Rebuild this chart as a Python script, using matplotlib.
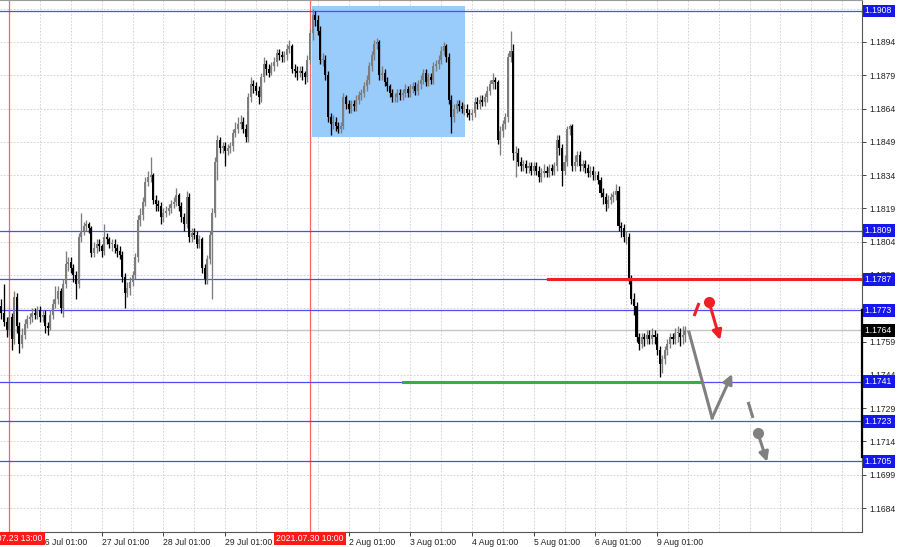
import numpy as np
import matplotlib.pyplot as plt
from matplotlib.transforms import blended_transform_factory

plt.rcParams['font.family'] = ['Liberation Sans', 'DejaVu Sans']
plt.rcParams['font.size'] = 6.2

# EURUSD H1 candles, index 0 = 23 Jul 10:00 ... index 266 = 9 Aug 12:00
open_first = 1.1775
close = [
    1.1772, 1.1768, 1.1764, 1.1770, 1.1760, 1.1779, 1.1766, 1.1758, 1.1762, 1.1767,
    1.1769, 1.1770, 1.1772, 1.1771, 1.1773, 1.1770, 1.1771, 1.1766, 1.1765, 1.1771,
    1.1776, 1.1778, 1.1782, 1.1774, 1.1785, 1.1794, 1.1795, 1.1792, 1.1789, 1.1785,
    1.1806, 1.1809, 1.1811, 1.1812, 1.1810, 1.1799, 1.1801, 1.1803, 1.1802, 1.1800,
    1.1806, 1.1805, 1.1803, 1.1803, 1.1801, 1.1800, 1.1798, 1.1788, 1.1781, 1.1783,
    1.1786, 1.1789, 1.1797, 1.1814, 1.1816, 1.1822, 1.1831, 1.1833, 1.1834, 1.1823,
    1.1821, 1.1820, 1.1815, 1.1817, 1.1818, 1.1819, 1.1821, 1.1822, 1.1825, 1.1820,
    1.1815, 1.1812, 1.1824, 1.1806, 1.1808, 1.1807, 1.1803, 1.1805, 1.1792, 1.1787,
    1.1796, 1.1807, 1.1817, 1.1840, 1.1850, 1.1846, 1.1847, 1.1845, 1.1846, 1.1847,
    1.1853, 1.1855, 1.1857, 1.1858, 1.1855, 1.1851, 1.1869, 1.1875, 1.1874, 1.1872,
    1.1869, 1.1878, 1.1884, 1.1882, 1.1880, 1.1883, 1.1885, 1.1889, 1.1888, 1.1887,
    1.1888, 1.1891, 1.1892, 1.1882, 1.1881, 1.1880, 1.1881, 1.1880, 1.1878, 1.1886,
    1.1898, 1.1906, 1.1904, 1.1899, 1.1886, 1.1886, 1.1879, 1.1860, 1.1857, 1.1858,
    1.1856, 1.1855, 1.1856, 1.1869, 1.1866, 1.1864, 1.1866, 1.1865, 1.1868, 1.1870,
    1.1871, 1.1874, 1.1877, 1.1883, 1.1888, 1.1893, 1.1894, 1.1879, 1.1880, 1.1876,
    1.1874, 1.1871, 1.1869, 1.1869, 1.1871, 1.1870, 1.1871, 1.1873, 1.1871, 1.1873,
    1.1874, 1.1872, 1.1875, 1.1877, 1.1880, 1.1876, 1.1878, 1.1877, 1.1883, 1.1884,
    1.1886, 1.1890, 1.1892, 1.1887, 1.1868, 1.1860, 1.1864, 1.1866, 1.1865, 1.1864,
    1.1864, 1.1862, 1.1861, 1.1862, 1.1867, 1.1866, 1.1868, 1.1867, 1.1869, 1.1872,
    1.1875, 1.1877, 1.1876, 1.1850, 1.1854, 1.1857, 1.1860, 1.1887, 1.1890, 1.1844,
    1.1844, 1.1840, 1.1838, 1.1839, 1.1837, 1.1838, 1.1836, 1.1838, 1.1836, 1.1833,
    1.1835, 1.1836, 1.1835, 1.1837, 1.1836, 1.1838, 1.1850, 1.1846, 1.1836, 1.1840,
    1.1855, 1.1856, 1.1838, 1.1840, 1.1843, 1.1838, 1.1839, 1.1837, 1.1835, 1.1836,
    1.1834, 1.1834, 1.1832, 1.1826, 1.1824, 1.1821, 1.1823, 1.1824, 1.1825, 1.1827,
    1.1811, 1.1810, 1.1806, 1.1806, 1.1787, 1.1778, 1.1775, 1.1761, 1.1758, 1.1761,
    1.1760, 1.1762, 1.1760, 1.1762, 1.1761, 1.1755, 1.1749, 1.1751, 1.1755, 1.1758,
    1.1761, 1.1760, 1.1763, 1.1763, 1.1761, 1.1762, 1.1764,
]
high = [
    1.1778, 1.1785, 1.1770, 1.1773, 1.1772, 1.1782, 1.1781, 1.1768, 1.1765, 1.1769,
    1.1771, 1.1772, 1.1774, 1.1774, 1.1775, 1.1775, 1.1773, 1.1773, 1.1768, 1.1773,
    1.1778, 1.1784, 1.1784, 1.1783, 1.1787, 1.1800, 1.1797, 1.1797, 1.1794, 1.1791,
    1.1808, 1.1817, 1.1813, 1.1814, 1.1813, 1.1811, 1.1804, 1.1805, 1.1805, 1.1803,
    1.1812, 1.1808, 1.1806, 1.1805, 1.1805, 1.1803, 1.1802, 1.1800, 1.1790, 1.1786,
    1.1788, 1.1791, 1.1799, 1.1816, 1.1819, 1.1824, 1.1833, 1.1836, 1.1842, 1.1835,
    1.1825, 1.1823, 1.1822, 1.1819, 1.1820, 1.1821, 1.1823, 1.1824, 1.1828, 1.1826,
    1.1822, 1.1817, 1.1827, 1.1826, 1.1810, 1.1810, 1.1809, 1.1807, 1.1806, 1.1794,
    1.1798, 1.1809, 1.1819, 1.1842, 1.1852, 1.1851, 1.1849, 1.1849, 1.1848, 1.1849,
    1.1855, 1.1858, 1.1860, 1.1861, 1.1860, 1.1857, 1.1871, 1.1878, 1.1877, 1.1876,
    1.1874, 1.1880, 1.1887, 1.1886, 1.1884, 1.1885, 1.1887, 1.1891, 1.1891, 1.1890,
    1.1890, 1.1893, 1.1895, 1.1893, 1.1884, 1.1883, 1.1883, 1.1883, 1.1881, 1.1888,
    1.1900, 1.1909, 1.1908, 1.1906, 1.1901, 1.1889, 1.1888, 1.1881, 1.1862, 1.1861,
    1.1860, 1.1858, 1.1858, 1.1871, 1.1870, 1.1868, 1.1868, 1.1868, 1.1870, 1.1872,
    1.1873, 1.1876, 1.1879, 1.1885, 1.1890, 1.1895, 1.1896, 1.1895, 1.1883, 1.1882,
    1.1878, 1.1875, 1.1873, 1.1871, 1.1873, 1.1873, 1.1873, 1.1875, 1.1874, 1.1875,
    1.1876, 1.1876, 1.1877, 1.1879, 1.1882, 1.1882, 1.1880, 1.1880, 1.1885, 1.1886,
    1.1888, 1.1892, 1.1894, 1.1893, 1.1889, 1.1870, 1.1866, 1.1868, 1.1868, 1.1867,
    1.1866, 1.1866, 1.1864, 1.1864, 1.1869, 1.1869, 1.1870, 1.1870, 1.1871, 1.1874,
    1.1877, 1.1880, 1.1878, 1.1877, 1.1856, 1.1859, 1.1862, 1.1889, 1.1899, 1.1893,
    1.1847, 1.1846, 1.1842, 1.1841, 1.1841, 1.1840, 1.1840, 1.1840, 1.1840, 1.1838,
    1.1837, 1.1839, 1.1838, 1.1839, 1.1839, 1.1840, 1.1852, 1.1852, 1.1848, 1.1843,
    1.1856, 1.1857, 1.1857, 1.1843, 1.1845, 1.1845, 1.1841, 1.1841, 1.1839, 1.1838,
    1.1838, 1.1836, 1.1836, 1.1833, 1.1828, 1.1826, 1.1825, 1.1826, 1.1827, 1.1830,
    1.1829, 1.1813, 1.1812, 1.1809, 1.1808, 1.1789, 1.1781, 1.1777, 1.1763, 1.1763,
    1.1763, 1.1764, 1.1764, 1.1765, 1.1764, 1.1763, 1.1757, 1.1753, 1.1757, 1.1760,
    1.1763, 1.1763, 1.1765, 1.1766, 1.1765, 1.1766, 1.1766,
]
low = [
    1.1769, 1.1766, 1.1761, 1.1762, 1.1755, 1.1758, 1.1763, 1.1754, 1.1756, 1.1760,
    1.1765, 1.1767, 1.1768, 1.1769, 1.1769, 1.1768, 1.1768, 1.1763, 1.1762, 1.1764,
    1.1769, 1.1774, 1.1776, 1.1772, 1.1770, 1.1783, 1.1791, 1.1790, 1.1786, 1.1778,
    1.1783, 1.1804, 1.1807, 1.1809, 1.1808, 1.1797, 1.1797, 1.1799, 1.1800, 1.1797,
    1.1798, 1.1803, 1.1801, 1.1800, 1.1799, 1.1797, 1.1796, 1.1786, 1.1774, 1.1779,
    1.1780, 1.1784, 1.1787, 1.1795, 1.1811, 1.1814, 1.1820, 1.1829, 1.1831, 1.1821,
    1.1818, 1.1818, 1.1812, 1.1813, 1.1815, 1.1816, 1.1817, 1.1819, 1.1820, 1.1818,
    1.1813, 1.1809, 1.1810, 1.1804, 1.1804, 1.1805, 1.1801, 1.1801, 1.1790, 1.1785,
    1.1785, 1.1794, 1.1778, 1.1815, 1.1832, 1.1844, 1.1844, 1.1838, 1.1843, 1.1844,
    1.1845, 1.1851, 1.1853, 1.1855, 1.1853, 1.1849, 1.1849, 1.1867, 1.1871, 1.1870,
    1.1866, 1.1867, 1.1876, 1.1879, 1.1878, 1.1879, 1.1881, 1.1883, 1.1886, 1.1885,
    1.1885, 1.1886, 1.1889, 1.1880, 1.1878, 1.1877, 1.1878, 1.1877, 1.1875, 1.1876,
    1.1884, 1.1895, 1.1901, 1.1897, 1.1884, 1.1883, 1.1877, 1.1858, 1.1852, 1.1855,
    1.1854, 1.1853, 1.1853, 1.1855, 1.1864, 1.1862, 1.1862, 1.1863, 1.1863, 1.1866,
    1.1868, 1.1869, 1.1872, 1.1875, 1.1881, 1.1886, 1.1891, 1.1877, 1.1877, 1.1874,
    1.1872, 1.1869, 1.1867, 1.1867, 1.1867, 1.1868, 1.1868, 1.1869, 1.1869, 1.1869,
    1.1871, 1.1870, 1.1870, 1.1873, 1.1875, 1.1874, 1.1874, 1.1875, 1.1875, 1.1881,
    1.1882, 1.1884, 1.1888, 1.1885, 1.1866, 1.1853, 1.1858, 1.1862, 1.1863, 1.1862,
    1.1861, 1.1860, 1.1859, 1.1859, 1.1860, 1.1864, 1.1864, 1.1865, 1.1865, 1.1867,
    1.1870, 1.1873, 1.1873, 1.1848, 1.1843, 1.1851, 1.1855, 1.1858, 1.1885, 1.1841,
    1.1833, 1.1838, 1.1836, 1.1836, 1.1835, 1.1835, 1.1834, 1.1834, 1.1834, 1.1831,
    1.1831, 1.1833, 1.1833, 1.1833, 1.1834, 1.1834, 1.1836, 1.1843, 1.1829, 1.1834,
    1.1838, 1.1852, 1.1836, 1.1836, 1.1838, 1.1836, 1.1836, 1.1835, 1.1833, 1.1833,
    1.1832, 1.1832, 1.1830, 1.1824, 1.1821, 1.1818, 1.1819, 1.1821, 1.1822, 1.1823,
    1.1809, 1.1806, 1.1804, 1.1803, 1.1785, 1.1776, 1.1771, 1.1759, 1.1755, 1.1756,
    1.1757, 1.1758, 1.1758, 1.1758, 1.1758, 1.1753, 1.1743, 1.1745, 1.1749, 1.1753,
    1.1756, 1.1758, 1.1758, 1.1759, 1.1757, 1.1758, 1.1759,
]

day_idx = [15, 39, 63, 87, 135, 159, 183, 207, 231, 255]
day_lbl = ['26 Jul 01:00', '27 Jul 01:00', '28 Jul 01:00', '29 Jul 01:00', '2 Aug 01:00',
           '3 Aug 01:00', '4 Aug 01:00', '5 Aug 01:00', '6 Aug 01:00', '9 Aug 01:00']
mark_idx = [3, 120]
mark_lbl = ['2021.07.23 13:00', '2021.07.30 10:00']

levels = [1.1908, 1.1809, 1.1787, 1.1773, 1.1741, 1.1723, 1.1705]
last_price = 1.1764
res_level, res_from = 1.1787, 212.6
sup_level, sup_from, sup_to = 1.1741, 156.2, 271.7
box_x0, box_x1 = 120.8, 180.3
box_y0, box_y1 = 1.1851, 1.1910

# hand-drawn forecast
red_dash_x, red_dash_y = [269.4, 271.3], [1.17705, 1.17764]
red_start, red_end = (275.2, 1.17769), (279.5, 1.17597)
grey_path_x, grey_path_y = [267.4, 276.4, 284.2], [1.17633, 1.17246, 1.17444]
grey_dash_x, grey_dash_y = [290.4, 292.3], [1.17318, 1.17246]
grey_start, grey_end = (294.2, 1.17178), (297.8, 1.17048)

yticks = [1.1684 + 0.0015 * k for k in range(16)]

c = np.array(close)
h = np.array(high)
l = np.array(low)
o = np.r_[open_first, c[:-1]]
x = np.arange(len(c))
up = c >= o

BULL = '#7d7d7d'
BLUE = '#4b4bff'
LBL_BLUE = '#1616f0'

fig = plt.figure(figsize=(9, 5.47), dpi=100)
ax = fig.add_axes([0, 15 / 547, 862 / 900, 532 / 547])
xmin, xmax = -0.56, 334.7
ax.set_xlim(xmin, xmax)
ax.set_ylim(1.16732, 1.19129)

# grid
for yv in yticks:
    ax.axhline(yv, color='#cdcdcd', lw=0.6, ls=(0, (2, 2)), zorder=0)
for xv in np.arange(3, 335, 12):
    ax.axvline(xv, color='#cdcdcd', lw=0.6, ls=(0, (2, 2)), zorder=0)

ax.fill_between([box_x0, box_x1], box_y0, box_y1, color='#99cbfb', lw=0, zorder=1)

for xm in mark_idx:
    ax.axvline(xm, color='#ff6464', lw=0.9, zorder=1.5)

for lv in levels:
    ax.axhline(lv, color=BLUE, lw=0.9, zorder=1.5)
ax.axhline(last_price, color='#c4c4c4', lw=1.0, zorder=1.4)

# candles
ax.vlines(x[up], l[up], h[up], color=BULL, lw=0.95, zorder=3)
ax.vlines(x[~up], l[~up], h[~up], color='black', lw=0.95, zorder=3)
body = np.maximum(np.abs(c - o), 0.00002)
ax.bar(x[up], body[up], bottom=o[up], width=0.8, color=BULL, lw=0, zorder=3)
ax.bar(x[~up], body[~up], bottom=c[~up], width=0.8, color='black', lw=0, zorder=3)

ax.plot([res_from, xmax], [res_level, res_level], color='#ee2026', lw=2.2, zorder=4)
ax.plot([sup_from, sup_to], [sup_level, sup_level], color='#2eb24b', lw=2.2, zorder=4)

# forecast scribbles
arrow_kw = dict(arrowstyle='-|>', lw=2.2, mutation_scale=14, shrinkA=0, shrinkB=0)
ax.plot(red_dash_x, red_dash_y, color='#ee2026', lw=2.2, solid_capstyle='butt', zorder=5)
ax.plot(*red_start, 'o', color='#ee2026', ms=7, zorder=5)
ax.annotate('', xy=red_end, xytext=red_start,
            arrowprops=dict(color='#ee2026', **arrow_kw), zorder=5)
ax.plot(grey_path_x[:2], grey_path_y[:2], color='#808080', lw=2.2, zorder=5)
ax.annotate('', xy=(grey_path_x[2], grey_path_y[2]), xytext=(grey_path_x[1], grey_path_y[1]),
            arrowprops=dict(color='#808080', **arrow_kw), zorder=5)
ax.plot(grey_dash_x, grey_dash_y, color='#808080', lw=2.2, solid_capstyle='butt', zorder=5)
ax.plot(*grey_start, 'o', color='#808080', ms=7, zorder=5)
ax.annotate('', xy=grey_end, xytext=grey_start,
            arrowprops=dict(color='#808080', **arrow_kw), zorder=5)

# axes
ax.spines['left'].set_visible(False)
ax.spines['top'].set_color('#9a9a9a')
ax.spines['right'].set_color('#555555')
ax.spines['bottom'].set_color('#555555')
ax.yaxis.tick_right()
ax.set_yticks(yticks)
ax.set_yticklabels(['%.4f' % v for v in yticks])
ax.tick_params(axis='y', length=3, width=0.6, pad=2, colors='#222222')
ax.set_xticks(day_idx)
ax.set_xticklabels(day_lbl, ha='left')
ax.tick_params(axis='x', length=3, width=0.6, pad=1.5, colors='#222222')

# price bar on the right edge
ax.plot([xmax, xmax], [1.1773, 1.1707], color='black', lw=1.6, clip_on=False, zorder=6)

ty = blended_transform_factory(ax.transAxes, ax.transData)
for lv in levels:
    ax.text(1.003, lv, '%.4f ' % lv, transform=ty, color='white', va='center', ha='left',
            fontsize=6.2, zorder=10, clip_on=False,
            bbox=dict(boxstyle='square,pad=0.2', fc=LBL_BLUE, ec='none'))
ax.text(1.003, last_price, '%.4f ' % last_price, transform=ty, color='white', va='center',
        ha='left', fontsize=6.2, zorder=10, clip_on=False,
        bbox=dict(boxstyle='square,pad=0.2', fc='black', ec='none'))

tx = blended_transform_factory(ax.transData, ax.transAxes)
for xm, lb in zip(mark_idx, mark_lbl):
    ax.text(xm, -0.0115, lb, transform=tx, color='white', va='center', ha='center',
            fontsize=6.2, zorder=10, clip_on=False,
            bbox=dict(boxstyle='square,pad=0.22', fc='#ff1a1a', ec='none'))

fig.savefig('out.png', dpi=100, facecolor='white')
